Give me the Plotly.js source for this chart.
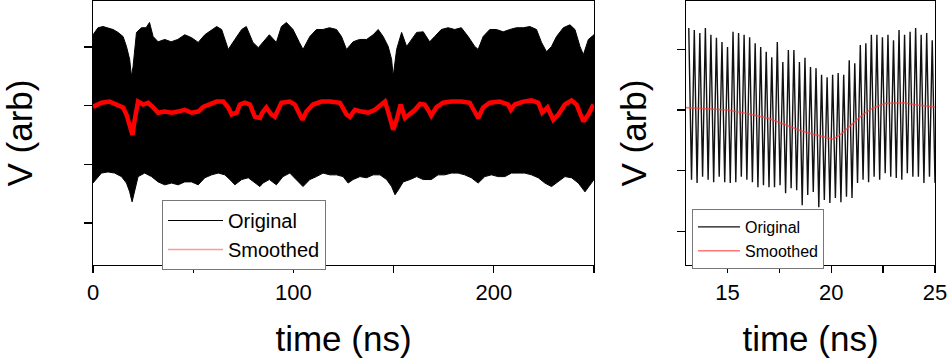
<!DOCTYPE html>
<html><head><meta charset="utf-8">
<script src="https://cdn.plot.ly/plotly-3.0.1.min.js"></script>
<style>html,body{margin:0;padding:0;background:#fff}#chart{width:948px;height:358px}</style>
</head><body><div id="chart"></div>
<script>
// ---- Left panel (0-250 ns): envelope of the raw trace (too dense to resolve) and the smoothed trace
const longUpperTime = [0,2.5,5,7.5,10,12.5,15,16.7,18.3,19.2,20,21.7,24.2,26.5,28.2,30,32.5,35.8,39,42.3,45.8,49.2,52.5,55.8,59.2,61.7,64.2,67.5,70.8,74.2,76.5,79.8,82.5,84.8,88,91.5,94,96.5,99.8,103,104.8,108.2,111.5,114.8,118,121.5,124,126.5,129.8,133,136.5,139.8,142.3,144.8,147.3,149,149.8,151.5,154,156.5,159,161.5,164.8,168,170.5,173.8,177.2,180.5,183.8,187.2,190.5,192.2,194.7,198,201.3,204.7,208,211.3,214.7,218,221.3,223.8,226.3,228.8,231.3,234.7,238,240.5,243,244.7,247.2,250];
const longUpperV = [1.21,1.33,1.35,1.33,1.30,1.25,1.18,1.01,0.79,0.50,0.67,1.25,1.33,1.33,1.42,1.18,1.09,1.13,1.09,1.13,1.21,1.16,1.08,1.21,1.30,1.35,1.30,0.96,1.13,1.30,1.35,1.08,0.99,1.09,1.21,1.08,1.35,1.42,1.30,1.08,0.96,1.18,1.30,1.30,1.33,1.30,1.18,0.96,1.09,1.13,1.13,1.21,1.30,1.18,1.01,0.79,0.50,0.96,1.25,1.01,1.13,1.25,1.26,1.09,1.18,1.30,1.33,1.30,1.33,1.18,1.01,0.96,1.18,1.30,1.30,1.26,1.30,1.33,1.33,1.35,1.30,1.08,0.92,1.01,1.18,1.33,1.38,1.30,1.01,0.87,1.13,1.21];
const longLowerTime = [0,4.2,7.5,10.8,14.2,16.7,18.3,19.5,20.8,22.5,25.8,29.2,32.5,35.8,39.2,42.5,45.8,49.2,52.5,55.8,59.2,62.5,65.8,68.3,70.8,74.2,77.5,80.8,83.3,84.8,88,91.5,94.8,98.2,101.5,104.8,108.2,111.5,114.8,118.2,121.5,124.8,127.3,129.8,133.2,136.5,139.8,143.2,146.5,149,150.7,152.3,154.8,158.2,161.5,164.8,168.8,172.2,175.5,178.8,182.2,185.5,188.8,192.2,195.5,198.8,202.2,205.5,208.8,212.2,215.5,218.8,222.2,225.5,228.8,232.2,235.5,238.8,242.2,245.5,248.8,250];
const longLowerV = [-1.32,-1.15,-1.13,-1.15,-1.21,-1.32,-1.47,-1.64,-1.44,-1.21,-1.15,-1.21,-1.30,-1.35,-1.32,-1.35,-1.30,-1.30,-1.35,-1.23,-1.18,-1.15,-1.18,-1.26,-1.35,-1.26,-1.23,-1.32,-1.38,-1.32,-1.26,-1.35,-1.21,-1.15,-1.26,-1.38,-1.26,-1.21,-1.15,-1.18,-1.18,-1.21,-1.32,-1.26,-1.21,-1.23,-1.18,-1.18,-1.26,-1.38,-1.52,-1.44,-1.30,-1.26,-1.21,-1.26,-1.26,-1.18,-1.18,-1.15,-1.15,-1.18,-1.23,-1.32,-1.21,-1.18,-1.21,-1.21,-1.15,-1.15,-1.15,-1.18,-1.23,-1.32,-1.38,-1.30,-1.21,-1.23,-1.32,-1.47,-1.32,-1.26];
const longSmoothTime = [0,4.2,8.3,12.5,15,16.7,18.3,19.7,20.8,22.5,25,27.5,30,32.5,35.8,39.2,42.5,45.8,49.2,52.5,55,58.3,61.7,65,67.5,69.2,71.7,73.3,75.8,78.3,80.8,83.3,84.5,86.5,89,90.7,94,98.2,100.7,103.2,104.5,106.5,109.8,114,118.2,123.2,126.5,128.2,130.7,134,137.3,140.7,144,145.7,147.3,149,149.8,151.5,153.5,155.7,158.2,160.7,163.2,165.5,167.2,168.8,171.3,174.7,178.8,183.8,188,190.5,192.2,194.7,198,203,207.2,208.5,210.5,214.7,218.8,222.2,224.2,226.8,229.7,232.2,235.5,238.8,241.3,244.7,247.2,249.7];
const longSmoothV = [-0.02,0.05,0.07,0.02,-0.03,-0.15,-0.32,-0.50,-0.24,0.07,0.02,0.05,-0.03,-0.12,-0.10,-0.12,-0.10,-0.07,-0.12,-0.10,-0.02,0.03,0.07,0.07,-0.03,-0.15,-0.12,0.02,0.05,0.02,-0.19,-0.21,-0.12,-0.03,-0.15,-0.19,0.05,0.07,0.02,-0.15,-0.24,-0.10,0.02,0.07,0.07,0.05,-0.15,-0.19,-0.07,-0.10,-0.12,-0.07,0.02,0.07,-0.10,-0.32,-0.41,-0.24,0.02,-0.21,-0.15,-0.07,0.03,0.02,-0.07,-0.17,-0.03,0.05,0.07,0.07,0.05,-0.10,-0.21,-0.03,0.05,0.07,0.02,-0.07,0.02,0.07,0.09,0.05,-0.12,-0.03,-0.24,-0.15,0.02,0.09,0.02,-0.27,-0.15,0.02];

// ---- Right panel (13-25 ns zoom): one peak and one trough per oscillation cycle
const zoomStart = 13, zoomCycles = 45, zoomPeriod = 12 / 45;
const zoomPeakV = [1.35,1.32,1.27,1.35,1.24,1.19,1.12,1.04,1.29,1.27,1.24,1.20,1.10,1.04,0.96,0.87,1.12,0.79,0.99,0.99,0.79,0.86,0.71,0.69,0.58,0.54,0.58,0.61,0.58,0.82,0.77,1.07,1.10,1.24,1.24,1.20,1.24,1.15,1.32,1.24,1.29,1.35,1.24,1.27,1.15];
const zoomTroughV = [-1.15,-1.20,-1.10,-1.15,-1.19,-1.10,-1.19,-1.20,-1.19,-1.10,-1.15,-1.19,-1.27,-1.24,-1.27,-1.27,-1.24,-1.37,-1.29,-1.32,-1.57,-1.40,-1.35,-1.60,-1.48,-1.53,-1.45,-1.52,-1.43,-1.45,-1.20,-1.15,-1.19,-1.10,-1.15,-1.04,-1.10,-1.12,-1.15,-1.04,-1.10,-1.10,-1.20,-1.10,-1.20];
const zoomSmoothTime = [13,14,15,16,17,18,18.6,19.5,20.1,20.5,21,21.5,22,22.6,23.5,24.2,25];
const zoomSmoothV = [0.04,0.02,0.0,-0.06,-0.14,-0.27,-0.35,-0.43,-0.48,-0.39,-0.23,-0.08,0.03,0.11,0.12,0.08,0.05];

// ---- Tick labels
const longTickVals = [0,50,100,150,200,250];
const longTickText = ['0','','100','','200',''];
const zoomTickVals = [15,17.5,20,22.5,25];
const zoomTickText = ['15','','20','','25'];
const vTickVals = [1,0,-1,-2];

// build traces
const envX = longUpperTime.concat(longLowerTime.slice().reverse());
const envY = longUpperV.concat(longLowerV.slice().reverse());
const zx = [], zy = [];
for (let k = 0; k < zoomCycles; k++) {
  zx.push(zoomStart + (k + 0.5) * zoomPeriod); zy.push(zoomPeakV[k]);
  zx.push(zoomStart + (k + 1) * zoomPeriod); zy.push(zoomTroughV[k]);
}

const FONT = 'Arial, "Liberation Sans", sans-serif';
const traces = [
  {x: envX, y: envY, xaxis: 'x', yaxis: 'y', mode: 'lines', fill: 'toself', fillcolor: '#000',
   line: {color: '#000', width: 1}, showlegend: false, hoverinfo: 'skip'},
  {x: longSmoothTime, y: longSmoothV, xaxis: 'x', yaxis: 'y', mode: 'lines',
   line: {color: '#ff0000', width: 4.5}, showlegend: false},
  {x: [null], y: [null], xaxis: 'x', yaxis: 'y', mode: 'lines', name: 'Original',
   line: {color: '#000', width: 1}, legend: 'legend'},
  {x: [null], y: [null], xaxis: 'x', yaxis: 'y', mode: 'lines', name: 'Smoothed',
   line: {color: 'rgba(255,0,0,0.4)', width: 1.5}, legend: 'legend'},
  {x: zx, y: zy, xaxis: 'x2', yaxis: 'y2', mode: 'lines', name: 'Original',
   line: {color: '#111', width: 1.4}, legend: 'legend2'},
  {x: zoomSmoothTime, y: zoomSmoothV, xaxis: 'x2', yaxis: 'y2', mode: 'lines', name: 'Smoothed',
   line: {color: 'rgba(255,60,60,0.7)', width: 1.6}, legend: 'legend2'}
];

const baseAx = {showline: true, linecolor: '#000', linewidth: 1.3, mirror: true, ticks: 'outside',
  tickcolor: '#000', tickwidth: 1.3, showgrid: false, zeroline: false,
  tickfont: {family: FONT, size: 22, color: '#000'}, fixedrange: true};
const topAx = {side: 'top', ticks: 'inside', ticklen: 9, tickwidth: 1.3, tickcolor: '#000',
  showticklabels: false, showline: false, showgrid: false, zeroline: false, fixedrange: true};

const yDom = [93/358, 357/358];
const yTitle = 'V (arb)\u00a0\u00a0';
const layout = {
  width: 948, height: 358, margin: {l: 0, r: 0, t: 0, b: 0},
  paper_bgcolor: '#fff', plot_bgcolor: '#fff', font: {family: FONT, color: '#000'},
  xaxis: Object.assign({}, baseAx, {domain: [93/948, 594/948], range: [0, 250], anchor: 'y',
    tickmode: 'array', tickvals: longTickVals, ticktext: longTickText, ticklen: 7,
    title: {text: 'time (ns)', font: {family: FONT, size: 35, color: '#000'}, standoff: 23}}),
  yaxis: Object.assign({}, baseAx, {domain: yDom, range: [-2.718, 1.786], anchor: 'x',
    tickmode: 'array', tickvals: vTickVals, showticklabels: false, ticklen: 8,
    title: {text: yTitle, font: {family: FONT, size: 35, color: '#000'}, standoff: 40}}),
  xaxis3: Object.assign({}, topAx, {overlaying: 'x', anchor: 'y', range: [0, 250],
    tickmode: 'array', tickvals: [50, 100, 150, 200]}),
  xaxis2: Object.assign({}, baseAx, {domain: [686/948, 935/948], range: [13, 25], anchor: 'y2',
    tickmode: 'array', tickvals: zoomTickVals, ticktext: zoomTickText, ticklen: 7,
    title: {text: 'time (ns)', font: {family: FONT, size: 35, color: '#000'}, standoff: 23}}),
  yaxis2: Object.assign({}, baseAx, {domain: yDom, range: [-2.553, 1.796], anchor: 'x2',
    tickmode: 'array', tickvals: vTickVals, showticklabels: false, ticklen: 8,
    title: {text: yTitle, font: {family: FONT, size: 35, color: '#000'}, standoff: 19}}),
  xaxis4: Object.assign({}, topAx, {overlaying: 'x2', anchor: 'y2', range: [13, 25],
    tickmode: 'array', tickvals: [15, 17.5, 20, 22.5]}),
  legend: {x: 162/948, y: 1 - 200/358, xanchor: 'left', yanchor: 'top', bgcolor: '#fff',
    bordercolor: '#777', borderwidth: 1, font: {family: FONT, size: 20, color: '#000'},
    itemwidth: 55, tracegroupgap: 0},
  legend2: {x: 692/948, y: 1 - 209/358, xanchor: 'left', yanchor: 'top', bgcolor: '#fff',
    bordercolor: '#777', borderwidth: 1, font: {family: FONT, size: 16, color: '#000'},
    itemwidth: 42, tracegroupgap: 0}
};
Plotly.newPlot('chart', traces, layout, {displayModeBar: false, staticPlot: true});
</script>
</body></html>
